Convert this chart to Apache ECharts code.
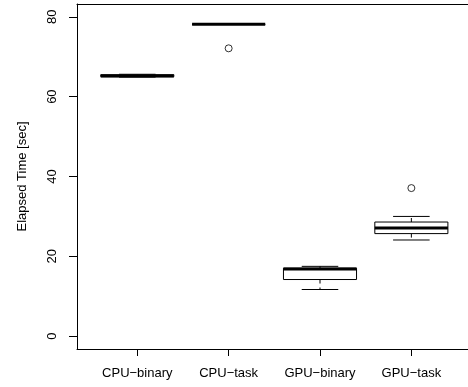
<!DOCTYPE html>
<html>
<head>
<meta charset="utf-8">
<script src="https://cdn.jsdelivr.net/npm/echarts@6/dist/echarts.min.js"></script>
<style>
html,body{margin:0;padding:0;background:#fff;}
#chart{width:468px;height:387px;}
</style>
</head>
<body>
<div id="chart"></div>
<script>
const categories = ['CPU\u2212binary', 'CPU\u2212task', 'GPU\u2212binary', 'GPU\u2212task'];
const whiskerLow = [64.9, 78.1, 11.7, 24.1];
const quartile1 = [65.0, 78.1, 14.2, 25.7];
const median = [65.2, 78.1, 16.85, 27.1];
const quartile3 = [65.5, 78.1, 17.05, 28.6];
const whiskerHigh = [65.6, 78.1, 17.5, 30.0];
const outlierGroup = [2, 4];
const outlierValue = [72.1, 37.1];
const yTicks = [0, 20, 40, 60, 80];
const yTitle = 'Elapsed Time [sec]';

const positions = categories.map((c, i) => i + 1);
const boxData = positions.map((p, i) => [p, whiskerLow[i], quartile1[i], median[i], quartile3[i], whiskerHigh[i]]);
const outlierData = outlierGroup.map((g, i) => [g, outlierValue[i]]);

const chart = echarts.init(document.getElementById('chart'), null, {renderer: 'canvas'});
const font = 'Liberation Sans, Arial, Helvetica, sans-serif';

function renderBox(params, api) {
  const x = api.value(0);
  const lo = api.value(1), q1 = api.value(2), med = api.value(3), q3 = api.value(4), hi = api.value(5);
  const bw = 0.4, sw = 0.2;
  const tl = api.coord([x - bw, q3]);
  const br = api.coord([x + bw, q1]);
  const ml = api.coord([x - bw, med]);
  const mr = api.coord([x + bw, med]);
  const cHi = api.coord([x, hi]);
  const cQ3 = api.coord([x, q3]);
  const cQ1 = api.coord([x, q1]);
  const cLo = api.coord([x, lo]);
  const sHiL = api.coord([x - sw, hi]);
  const sHiR = api.coord([x + sw, hi]);
  const sLoL = api.coord([x - sw, lo]);
  const sLoR = api.coord([x + sw, lo]);
  const stroke = {stroke: '#000', lineWidth: 1, fill: null};
  return {
    type: 'group',
    children: [
      {type: 'line', shape: {x1: cQ3[0], y1: cQ3[1], x2: cHi[0], y2: cHi[1]}, style: Object.assign({lineDash: [4, 4]}, stroke)},
      {type: 'line', shape: {x1: cQ1[0], y1: cQ1[1], x2: cLo[0], y2: cLo[1]}, style: Object.assign({lineDash: [4, 4]}, stroke)},
      {type: 'line', shape: {x1: sHiL[0], y1: sHiL[1], x2: sHiR[0], y2: sHiR[1]}, style: stroke},
      {type: 'line', shape: {x1: sLoL[0], y1: sLoL[1], x2: sLoR[0], y2: sLoR[1]}, style: stroke},
      {type: 'rect', shape: {x: tl[0], y: tl[1], width: br[0] - tl[0], height: br[1] - tl[1]}, style: {stroke: '#000', lineWidth: 1, fill: '#fff'}},
      {type: 'line', shape: {x1: ml[0], y1: ml[1], x2: mr[0], y2: mr[1]}, style: {stroke: '#000', lineWidth: 3}}
    ]
  };
}

chart.setOption({
  animation: false,
  backgroundColor: '#fff',
  grid: {left: 77, top: 4, width: 391, height: 345, show: false, containLabel: false, outerBoundsMode: 'none'},
  xAxis: [{
    type: 'value', min: 0.34, max: 4.62,
    axisLine: {show: true, onZero: false, lineStyle: {color: '#000', width: 1}},
    splitLine: {show: false},
    axisTick: {show: true, customValues: positions, length: 7, lineStyle: {color: '#000'}},
    axisLabel: {show: true, customValues: positions, margin: 18, color: '#000', fontSize: 13, fontFamily: font,
      formatter: v => categories[Math.round(v) - 1] || ''}
  }, {
    type: 'value', min: 0.34, max: 4.62, position: 'top',
    axisLine: {show: true, onZero: false, lineStyle: {color: '#000', width: 1}},
    splitLine: {show: false}, axisTick: {show: false}, axisLabel: {show: false}
  }],
  yAxis: {
    type: 'value', min: -3.2, max: 83.2,
    axisLine: {show: true, onZero: false, lineStyle: {color: '#000', width: 1}},
    splitLine: {show: false},
    axisTick: {show: true, customValues: yTicks, length: 8, lineStyle: {color: '#000'}},
    axisLabel: {show: true, customValues: yTicks, rotate: 90, margin: 18, color: '#000', fontSize: 13, fontFamily: font},
    name: yTitle, nameLocation: 'middle', nameGap: 48, nameRotate: 90,
    nameTextStyle: {color: '#000', fontSize: 13, fontFamily: font}
  },
  series: [
    {type: 'custom', renderItem: renderBox, data: boxData, encode: {x: 0, y: [1, 2, 3, 4, 5]}, clip: false},
    {type: 'scatter', data: outlierData, symbol: 'circle', symbolSize: 7,
      itemStyle: {color: 'transparent', borderColor: '#000', borderWidth: 1}}
  ]
});
</script>
</body>
</html>
